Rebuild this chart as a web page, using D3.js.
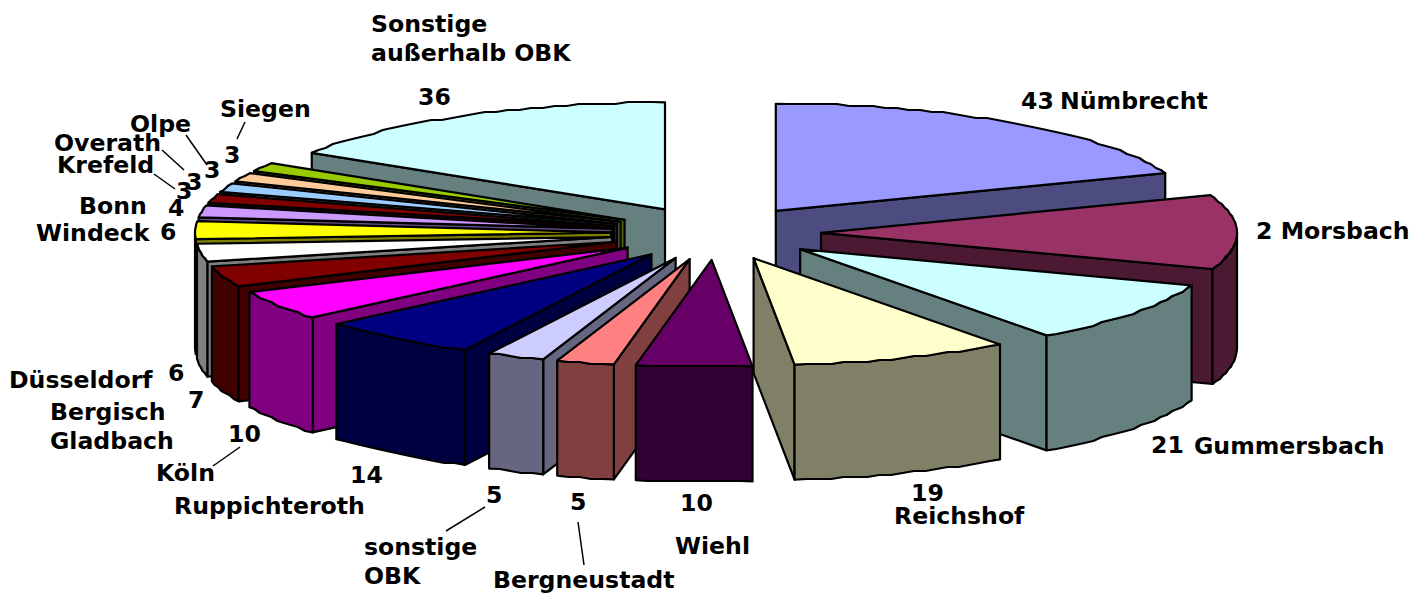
<!DOCTYPE html>
<html><head><meta charset="utf-8">
<script src="https://cdnjs.cloudflare.com/ajax/libs/d3/7.8.5/d3.min.js"></script>
<style>html,body{margin:0;background:#fff}svg{display:block}text{font-family:"DejaVu Sans";font-weight:700;font-size:23.6px;fill:#000}</style>
</head><body><svg id="c" width="1427" height="595"></svg>
<script>
const categories=["Nümbrecht","Morsbach","Gummersbach","Reichshof","Wiehl","Bergneustadt","sonstige OBK","Ruppichteroth","Köln","Bergisch Gladbach","Düsseldorf","Windeck","Bonn","Krefeld","Overath","Olpe","Siegen","Sonstige außerhalb OBK"];
// Morsbach's printed label is cut to "2"; its slice size reads as about 25.
const values=[43,25,21,19,10,5,5,14,10,7,6,6,4,3,3,3,3,36];
const topColors=["#9999FF","#993366","#CCFFFF","#FFFFCC","#660066","#FF8080","#CCCCFF","#000080","#FF00FF","#800000","#FFFFFF","#FFFF00","#CC99FF","#800000","#99CCFF","#FFCC99","#99CC00","#CCFFFF"];
const sideColors=["#4C4C80","#4C1933","#668080","#808066","#330033","#804040","#666680","#000040","#800080","#400000","#808080","#808000","#664C80","#400000","#4C6680","#80664C","#4C6600","#668080"];

const labels=[["Sonstige",371,32],["außerhalb OBK",371,61],["36",418,105],["43",1021,109],["Nümbrecht",1060,109],["2 Morsbach",1256,239],["21",1151,453],["Gummersbach",1194,454],["19",911,501],["Reichshof",894,524],["10",680,511],["Wiehl",675,554],["5",570,510],["Bergneustadt",493,588],["5",486,503],["sonstige",364,555],["OBK",364,584],["14",350,483],["Ruppichteroth",174,514],["10",228,442],["Köln",156,481],["7",188,408],["Bergisch",50,420],["Gladbach",50,449],["6",168,381],["Düsseldorf",9,388],["6",160,240],["Windeck",36,241],["4",168,216],["Bonn",79,214],["3",176,199],["Krefeld",57,173],["3",186,190],["Overath",54,151],["3",204,178],["Olpe",130,132],["3",224,163],["Siegen",220,117]];
const leaders=[[245,122,237,139],[186,135,207,165],[162,150,184,170],[154,174,175,189],[213,466,240,447],[446,531,485,507],[578,522,584,565]];

const cx0=716,cy0=233,rx=416,ry=107,depth=115,explode=105,explodeY=27;
const svg=d3.select("#c");
const unitX=d3.scaleLinear().domain([-1,1]).range([-rx,rx]);
const unitY=d3.scaleLinear().domain([-1,1]).range([ry,-ry]);
const pie=d3.pie().sort(null).value(d=>d.v);
const slices=pie(values.map((v,i)=>({v,i})));
const line=d3.line();

slices.forEach(s=>{
  s.mid=(s.startAngle+s.endAngle)/2;
  s.ax=cx0+explode*Math.sin(s.mid);
  s.ay=cy0-explodeY*Math.cos(s.mid);
});
const rimPt=(s,a)=>[s.ax+unitX(Math.sin(a)),s.ay+unitY(Math.cos(a))];
function rim(s,a0,a1){
  const n=Math.max(2,Math.ceil(Math.abs(a1-a0)/0.03));
  return d3.range(n+1).map(k=>{
    const p=rimPt(s,a0+(a1-a0)*k/n);
    return (k===0||k===n)?p:[p[0],Math.round(p[1]/2)*2];
  });
}
const order=slices.slice().sort((a,b)=>d3.descending(Math.cos(a.mid),Math.cos(b.mid)));
const groups=svg.selectAll("g.slice").data(order).join("g").attr("class","slice")
  .attr("stroke","#000").attr("stroke-width",2.2).attr("stroke-linejoin","round");
const PI=Math.PI;
groups.each(function(s){
  const g=d3.select(this),i=s.data.i,side=sideColors[i],top=topColors[i];
  const straddles=s.startAngle<PI&&s.endAngle>PI;
  if(!straddles){
    const wa=s.endAngle<=PI?s.endAngle:s.startAngle;
    const p=rimPt(s,wa);
    g.append("path").attr("fill",side).attr("d",line([[s.ax,s.ay],p,[p[0],p[1]+depth],[s.ax,s.ay+depth]])+"Z");
  }
  const lo=Math.max(s.startAngle,PI/2),hi=Math.min(s.endAngle,3*PI/2);
  if(hi>lo){
    const r=rim(s,lo,hi);
    const b=r.slice().reverse().map(p=>[p[0],p[1]+depth]);
    g.append("path").attr("fill",side).attr("d",line(r.concat(b))+"Z");
  }
  g.append("path").attr("fill",top).attr("d",line([[s.ax,s.ay]].concat(rim(s,s.startAngle,s.endAngle)))+"Z");
});
svg.selectAll("line.lead").data(leaders).join("line").attr("class","lead")
  .attr("x1",d=>d[0]).attr("y1",d=>d[1]).attr("x2",d=>d[2]).attr("y2",d=>d[3])
  .attr("stroke","#000").attr("stroke-width",1.5);
svg.selectAll("text").data(labels).join("text").attr("x",d=>d[1]).attr("y",d=>d[2]).text(d=>d[0]);
</script></body></html>
